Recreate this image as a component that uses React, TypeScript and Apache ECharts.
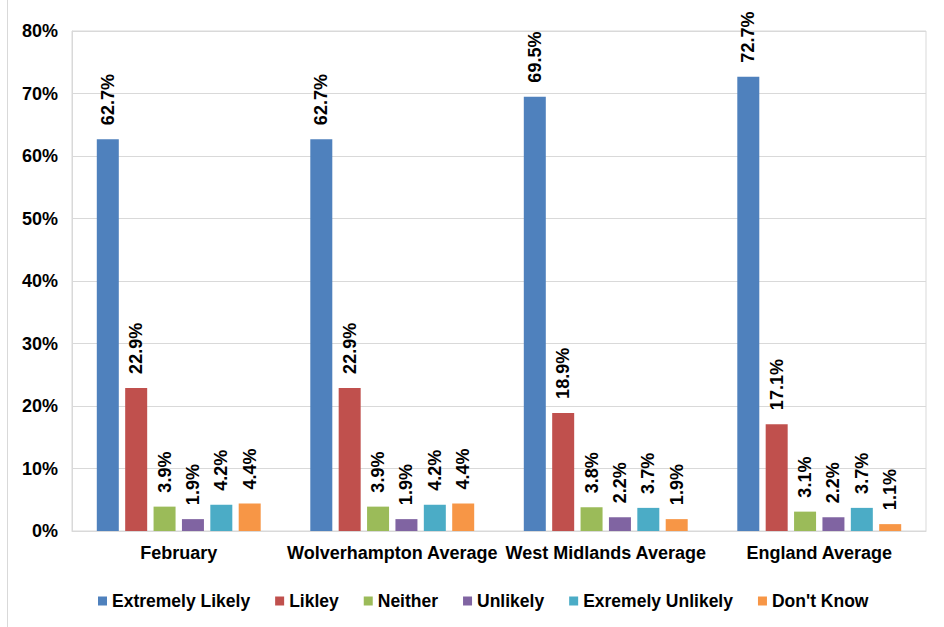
import React, { useEffect, useRef } from "react";
import * as echarts from "echarts";

// Categories along the x axis
const categories = [
  "February",
  "Wolverhampton Average",
  "West Midlands Average",
  "England Average",
];

// Response shares (%) per category
const extremelyLikely = [62.7, 62.7, 69.5, 72.7];
const likley = [22.9, 22.9, 18.9, 17.1];
const neither = [3.9, 3.9, 3.8, 3.1];
const unlikely = [1.9, 1.9, 2.2, 2.2];
const exremelyUnlikely = [4.2, 4.2, 3.7, 3.7];
const dontKnow = [4.4, 4.4, 1.9, 1.1];

const seriesNames = [
  "Extremely Likely",
  "Likley",
  "Neither",
  "Unlikely",
  "Exremely Unlikely",
  "Don't Know",
];
const seriesData = [
  extremelyLikely,
  likley,
  neither,
  unlikely,
  exremelyUnlikely,
  dontKnow,
];
const colors = ["#4F81BD", "#C0504D", "#9BBB59", "#8064A2", "#4BACC6", "#F79646"];

const FONT = "'Liberation Sans', Arial, sans-serif";

export default function App() {
  const ref = useRef<HTMLDivElement>(null);

  useEffect(() => {
    if (!ref.current) return;
    const chart = echarts.init(ref.current, null, { renderer: "svg" });
    chart.setOption({
      animation: false,
      backgroundColor: "#ffffff",
      color: colors,
      textStyle: { fontFamily: FONT },
      grid: {
        left: 72,
        right: 18,
        top: 31,
        bottom: 96,
        show: true,
        borderColor: "#d9d9d9",
        borderWidth: 1,
      },
      legend: {
        left: 93,
        top: 587,
        itemWidth: 9,
        itemHeight: 9,
        itemGap: 25,
        icon: "rect",
        textStyle: {
          fontFamily: FONT,
          fontSize: 17.5,
          fontWeight: "bold",
          color: "#000",
        },
        data: seriesNames,
      },
      xAxis: {
        type: "category",
        data: categories,
        axisLine: { show: true, lineStyle: { color: "#d9d9d9" } },
        axisTick: { show: false },
        axisLabel: {
          interval: 0,
          margin: 13,
          fontFamily: FONT,
          fontSize: 18,
          fontWeight: "bold",
          color: "#000",
        },
      },
      yAxis: {
        type: "value",
        min: 0,
        max: 80,
        interval: 10,
        axisLine: { show: true, lineStyle: { color: "#d9d9d9" } },
        axisTick: { show: false },
        splitLine: { show: true, lineStyle: { color: "#d9d9d9" } },
        axisLabel: {
          margin: 14,
          formatter: "{value}%",
          fontFamily: FONT,
          fontSize: 18,
          fontWeight: "bold",
          color: "#000",
        },
      },
      series: seriesNames.map((name, i) => ({
        name,
        type: "bar",
        data: seriesData[i],
        barWidth: 22,
        barGap: "29%",
        itemStyle: { color: colors[i] },
        label: {
          show: true,
          position: "top",
          rotate: 90,
          align: "left",
          verticalAlign: "middle",
          distance: 14,
          fontFamily: FONT,
          fontSize: 18,
          fontWeight: "bold",
          color: "#000",
          formatter: (p: any) => Number(p.value).toFixed(1) + "%",
        },
      })),
      graphic: [
        {
          type: "line",
          shape: { x1: 7.5, y1: 0, x2: 7.5, y2: 627 },
          style: { stroke: "#d9d9d9", lineWidth: 1 },
          silent: true,
        },
      ],
    });
    return () => chart.dispose();
  }, []);

  return (
    <div
      ref={ref}
      style={{ position: "fixed", left: 0, top: 0, width: 944, height: 627 }}
    />
  );
}
